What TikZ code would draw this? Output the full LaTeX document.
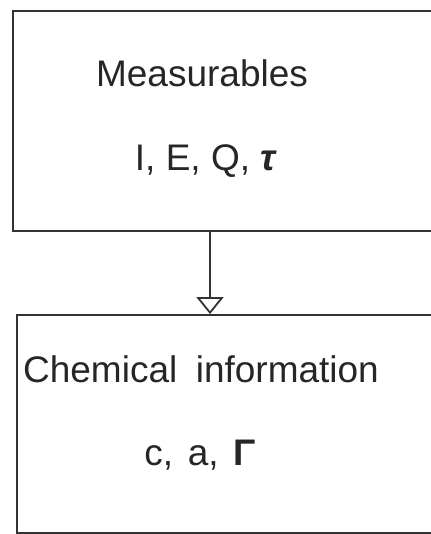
\documentclass[tikz,border=0pt]{standalone}
\usepackage{fontspec}
\setmainfont{Liberation Sans}
\usetikzlibrary{arrows.meta,positioning}

\begin{document}
\begin{tikzpicture}[x=0.5pt,y=-0.5pt,>={Triangle[open,width=13.5pt,length=8.5pt,line width=0.9pt]},every node/.style={font=\fontsize{18.5}{22}\selectfont,text=black!85},box/.style={draw=black!80,line width=0.9pt,inner sep=0pt},flow/.style={->,draw=black!80,line width=0.8pt},lbl/.style={anchor=base,inner sep=0pt}]
\useasboundingbox (0,0) rectangle (430,534);
\node[box,minimum width=260pt,minimum height=110pt] (meas) at (273,121) {};
\node[box,minimum width=258pt,minimum height=109pt] (chem) at (275,424) {};
\node[lbl] (measT) at (202,87) {Measurables};\node[lbl] (measV) at (206,170) {I, E, Q, \textbf{\textit{τ}}};
\node[lbl] (chemT) at (201,382) {Chemical\hspace{0.5em}information};\node[lbl] (chemV) at (200,465) {c,\hspace{0.4em}a,\hspace{0.4em}\textbf{Γ}};
\coordinate (ax) at (210,0);
\draw[flow] (meas.south -| ax)--(chem.north -| ax);
\end{tikzpicture}
\end{document}
